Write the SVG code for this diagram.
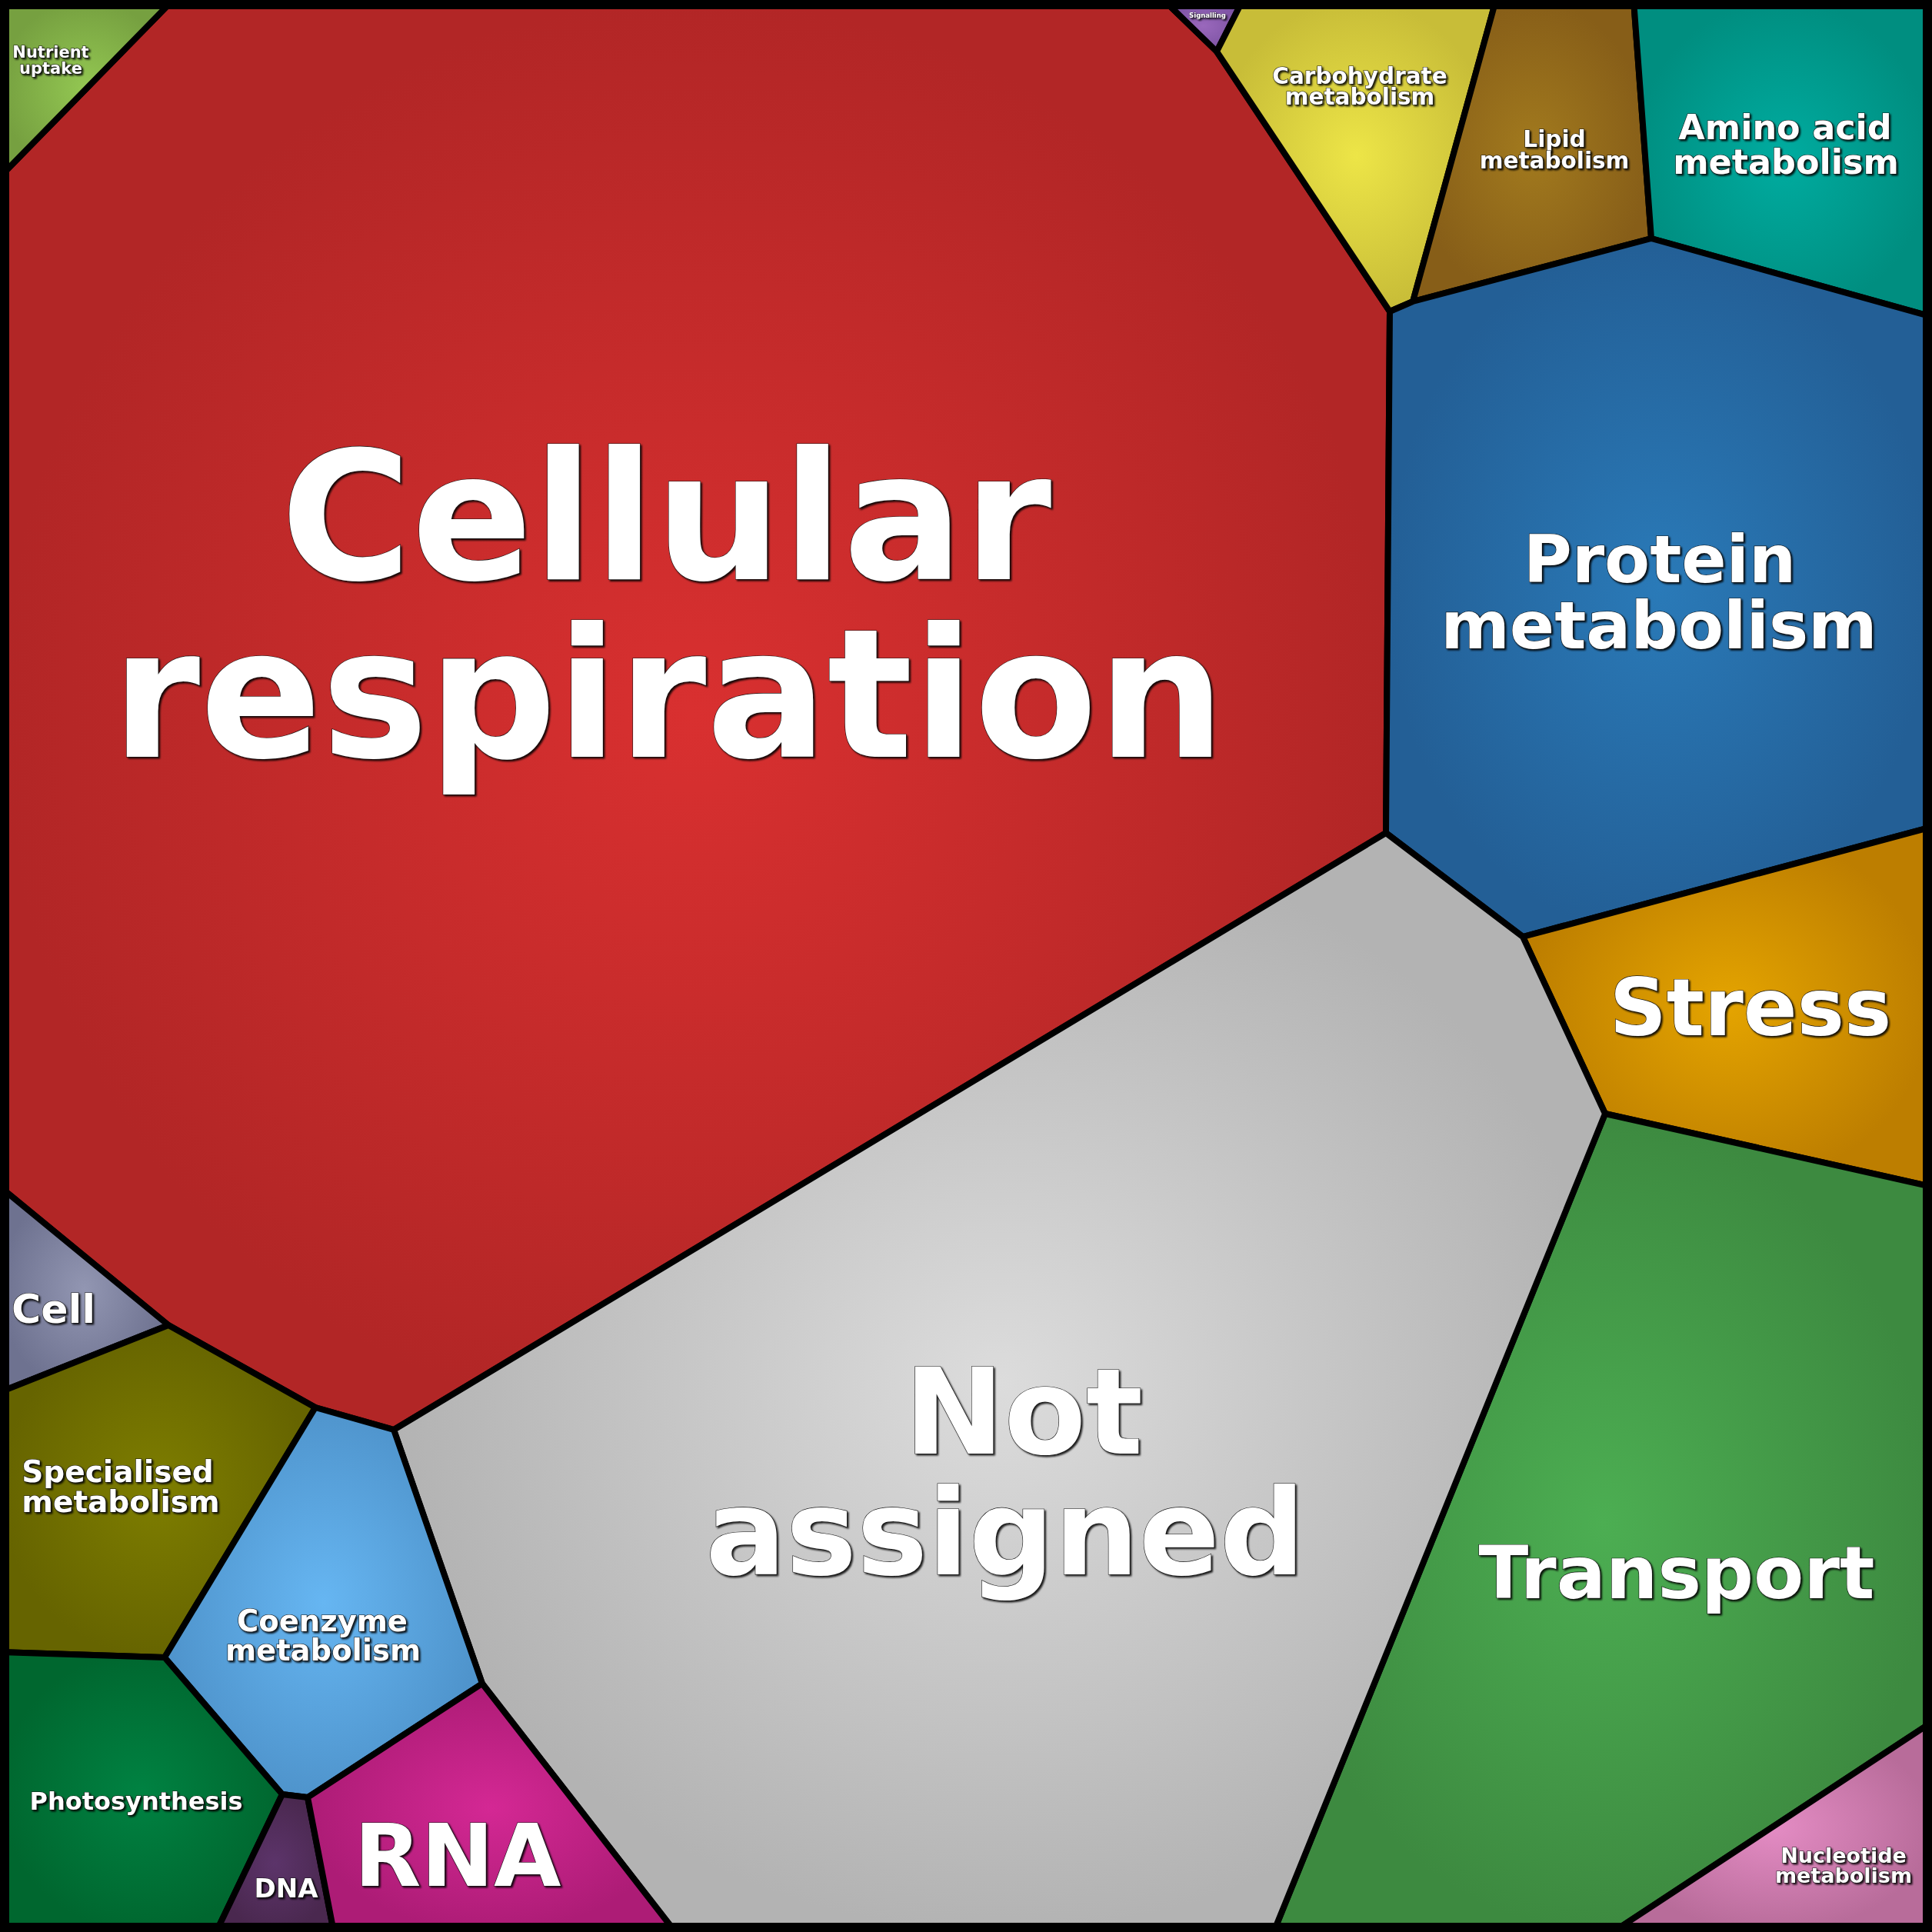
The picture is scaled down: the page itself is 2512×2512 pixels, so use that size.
<svg xmlns="http://www.w3.org/2000/svg" width="2512" height="2512" viewBox="0 0 2512 2512">
<defs>
<radialGradient id="gRed"><stop offset="0" stop-color="#d93030"/><stop offset="1" stop-color="#b22626"/></radialGradient>
<radialGradient id="gNut"><stop offset="0" stop-color="#93c752"/><stop offset="1" stop-color="#76a040"/></radialGradient>
<radialGradient id="gSig"><stop offset="0" stop-color="#9a68bc"/><stop offset="1" stop-color="#7b52a2"/></radialGradient>
<radialGradient id="gCarb"><stop offset="0" stop-color="#ede547"/><stop offset="1" stop-color="#c8bd38"/></radialGradient>
<radialGradient id="gLip"><stop offset="0" stop-color="#a27a1e"/><stop offset="1" stop-color="#875e18"/></radialGradient>
<radialGradient id="gAmino"><stop offset="0" stop-color="#00aca0"/><stop offset="1" stop-color="#008e80"/></radialGradient>
<radialGradient id="gProt"><stop offset="0" stop-color="#2a7ab8"/><stop offset="1" stop-color="#235f96"/></radialGradient>
<radialGradient id="gStress"><stop offset="0" stop-color="#e4a400"/><stop offset="1" stop-color="#bd7e00"/></radialGradient>
<radialGradient id="gTrans"><stop offset="0" stop-color="#4cae52"/><stop offset="1" stop-color="#3d8a40"/></radialGradient>
<radialGradient id="gNuc"><stop offset="0" stop-color="#e48cc4"/><stop offset="1" stop-color="#b86c9a"/></radialGradient>
<radialGradient id="gNA"><stop offset="0" stop-color="#dcdcdc"/><stop offset="1" stop-color="#b3b3b3"/></radialGradient>
<radialGradient id="gCell"><stop offset="0" stop-color="#9296b2"/><stop offset="1" stop-color="#6e7290"/></radialGradient>
<radialGradient id="gSpec"><stop offset="0" stop-color="#7e7e00"/><stop offset="1" stop-color="#666400"/></radialGradient>
<radialGradient id="gCoen"><stop offset="0" stop-color="#66b6f2"/><stop offset="1" stop-color="#4f94cc"/></radialGradient>
<radialGradient id="gPhot"><stop offset="0" stop-color="#008242"/><stop offset="1" stop-color="#00672f"/></radialGradient>
<radialGradient id="gDNA"><stop offset="0" stop-color="#5c346a"/><stop offset="1" stop-color="#4a284f"/></radialGradient>
<radialGradient id="gRNA"><stop offset="0" stop-color="#d42894"/><stop offset="1" stop-color="#ad1c76"/></radialGradient>
<filter id="sh" x="-10%" y="-10%" width="130%" height="140%">
<feDropShadow dx="2" dy="2" stdDeviation="1" flood-color="#000" flood-opacity="0.85"/>
</filter>
</defs>
<style>
.cell{stroke:#000;stroke-width:8;stroke-linejoin:round}
.lbl{font-family:"DejaVu Sans","Liberation Sans",sans-serif;font-weight:bold;fill:#fff;text-anchor:middle;stroke:#111;stroke-width:1.2;paint-order:stroke;filter:url(#sh)}
</style>
<g id="nodes">
<g id="cellular-respiration">
<polygon class="cell" fill="url(#gRed)" points="225,0 1513,0 1582,67 1807,405 1802,1083 512,1859 410,1830 219,1723 0,1543 0,230"/>
<text class="lbl" font-size="232" x="866" y="753">Cellular</text>
<text class="lbl" font-size="233" x="869" y="984">respiration</text>
</g>
<g id="nutrient-uptake">
<polygon class="cell" fill="url(#gNut)" points="0,0 225,0 0,230"/>
<text class="lbl" font-size="21" x="66" y="75">Nutrient</text>
<text class="lbl" font-size="21" x="66" y="96">uptake</text>
</g>
<g id="signalling">
<polygon class="cell" fill="url(#gSig)" points="1513,0 1616,0 1582,67"/>
<text class="lbl" font-size="8.5" x="1570" y="23" style="stroke-width:0.4">Signalling</text>
</g>
<g id="carbohydrate-metabolism">
<polygon class="cell" fill="url(#gCarb)" points="1616,0 1945,0 1837,392 1807,405 1582,67"/>
<text class="lbl" font-size="29.5" x="1768" y="109">Carbohydrate</text>
<text class="lbl" font-size="29.5" x="1768" y="136">metabolism</text>
</g>
<g id="lipid-metabolism">
<polygon class="cell" fill="url(#gLip)" points="1945,0 2124,0 2147,310 1837,392"/>
<text class="lbl" font-size="29.5" x="2021" y="191">Lipid</text>
<text class="lbl" font-size="29.5" x="2021" y="219">metabolism</text>
</g>
<g id="amino-acid-metabolism">
<polygon class="cell" fill="url(#gAmino)" points="2124,0 2512,0 2512,412 2147,310"/>
<text class="lbl" font-size="44.5" x="2321" y="181">Amino acid</text>
<text class="lbl" font-size="44.5" x="2322" y="226">metabolism</text>
</g>
<g id="protein-metabolism">
<polygon class="cell" fill="url(#gProt)" points="1807,405 1837,392 2147,310 2512,412 2512,1075 1980,1218 1802,1083"/>
<text class="lbl" font-size="86" x="2158" y="757">Protein</text>
<text class="lbl" font-size="86" x="2157" y="843">metabolism</text>
</g>
<g id="stress">
<polygon class="cell" fill="url(#gStress)" points="1980,1218 2512,1075 2512,1543 2087,1448"/>
<text class="lbl" font-size="103" x="2276" y="1346">Stress</text>
</g>
<g id="transport">
<polygon class="cell" fill="url(#gTrans)" points="2087,1448 2512,1543 2512,2239 2097,2512 1656,2512"/>
<text class="lbl" font-size="95" x="2180" y="2078">Transport</text>
</g>
<g id="nucleotide-metabolism">
<polygon class="cell" fill="url(#gNuc)" points="2512,2239 2512,2512 2097,2512"/>
<text class="lbl" font-size="27" x="2397" y="2422">Nucleotide</text>
<text class="lbl" font-size="27" x="2397" y="2448">metabolism</text>
</g>
<g id="not-assigned">
<polygon class="cell" fill="url(#gNA)" points="1802,1083 1980,1218 2087,1448 1656,2512 878,2512 627,2189 512,1859"/>
<text class="lbl" font-size="155" x="1331" y="1890">Not</text>
<text class="lbl" font-size="155" x="1307" y="2047">assigned</text>
</g>
<g id="cell">
<polygon class="cell" fill="url(#gCell)" points="0,1543 219,1723 0,1810"/>
<text class="lbl" font-size="52" x="15" y="1720" style="text-anchor:start">Cell</text>
</g>
<g id="specialised-metabolism">
<polygon class="cell" fill="url(#gSpec)" points="0,1810 219,1723 410,1830 214,2155 0,2148"/>
<text class="lbl" font-size="39" x="153" y="1927">Specialised</text>
<text class="lbl" font-size="39" x="157" y="1966">metabolism</text>
</g>
<g id="coenzyme-metabolism">
<polygon class="cell" fill="url(#gCoen)" points="410,1830 512,1859 627,2189 400,2337 367,2333 214,2155"/>
<text class="lbl" font-size="38.5" x="419" y="2121">Coenzyme</text>
<text class="lbl" font-size="38.5" x="420" y="2159">metabolism</text>
</g>
<g id="photosynthesis">
<polygon class="cell" fill="url(#gPhot)" points="0,2148 214,2155 367,2333 281,2512 0,2512"/>
<text class="lbl" font-size="32" x="177" y="2353">Photosynthesis</text>
</g>
<g id="dna">
<polygon class="cell" fill="url(#gDNA)" points="367,2333 400,2337 434,2512 281,2512"/>
<text class="lbl" font-size="34" x="372" y="2467">DNA</text>
</g>
<g id="rna">
<polygon class="cell" fill="url(#gRNA)" points="400,2337 627,2189 878,2512 434,2512"/>
<text class="lbl" font-size="113" x="595" y="2452">RNA</text>
</g>
</g>
<g id="connectors"/>
<rect id="frame" x="0" y="0" width="2512" height="2512" fill="none" stroke="#000" stroke-width="24"/>
</svg>
